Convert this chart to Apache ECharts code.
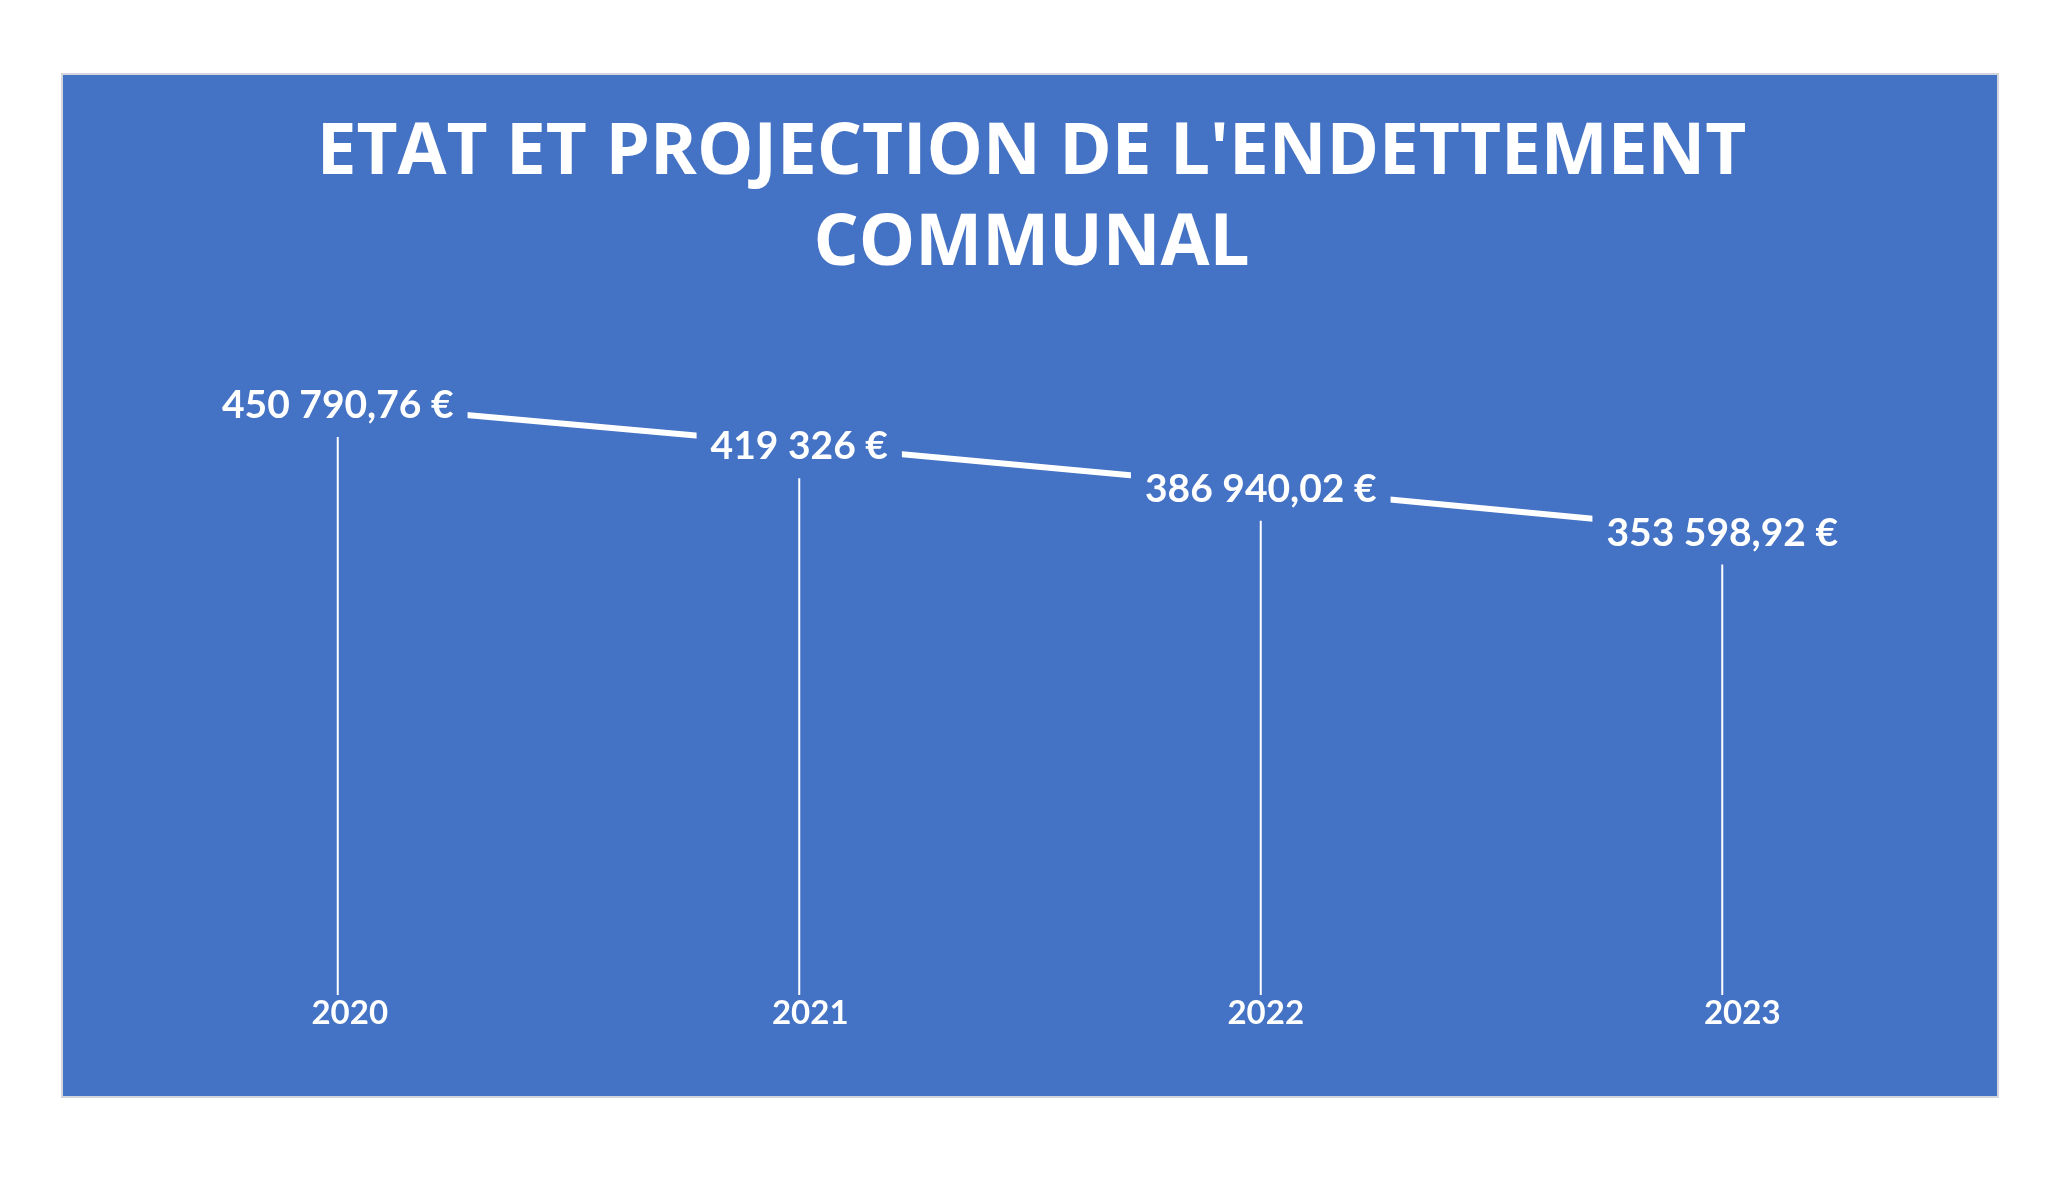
<!DOCTYPE html>
<html>
<head>
<meta charset="utf-8">
<script src="https://cdn.jsdelivr.net/npm/echarts@6/dist/echarts.min.js"></script>
<style>
html,body{margin:0;padding:0;background:#fff;}
#chart{width:2063px;height:1184px;}
</style>
</head>
<body>
<div id="chart"></div>
<script>
var titleText = "ETAT ET PROJECTION DE L'ENDETTEMENT\nCOMMUNAL";
var years = ['2020', '2021', '2022', '2023'];
var debt = [450790.76, 419326, 386940.02, 353598.92];

function fmtEuro(v) {
  var isInt = Math.abs(v - Math.round(v)) < 1e-9;
  var s = isInt ? String(Math.round(v)) : v.toFixed(2);
  var parts = s.split('.');
  var intPart = parts[0].replace(/\B(?=(\d{3})+(?!\d))/g, ' ');
  return intPart + (parts[1] ? ',' + parts[1] : '') + ' €';
}

var chart = echarts.init(document.getElementById('chart'), null, {renderer: 'canvas'});
var blue = '#4472C4';
var yearRich = {
  p0: {padding: [0, 0, 0, 24]},
  p1: {padding: [0, 0, 0, 22]},
  p2: {padding: [0, 0, 0, 10]},
  p3: {padding: [0, 0, 0, 40]}
};
chart.setOption({
  backgroundColor: '#ffffff',
  animation: false,
  graphic: [{
    type: 'rect',
    z: -10,
    shape: {x: 62, y: 74, width: 1936, height: 1023},
    style: {fill: blue, stroke: '#D3D6DC', lineWidth: 2}
  }],
  title: {
    text: titleText,
    left: 'center',
    top: 103,
    textStyle: {
      color: '#ffffff',
      fontFamily: 'Open Sans',
      fontWeight: 'bold',
      fontSize: 71,
      lineHeight: 91
    }
  },
  grid: {left: 107, right: 110, top: 339, bottom: 189, containLabel: false},
  xAxis: {
    type: 'category',
    data: years,
    boundaryGap: true,
    axisLine: {show: false},
    axisTick: {show: false},
    axisLabel: {
      color: '#ffffff',
      fontFamily: 'Lato',
      fontWeight: 'bold',
      fontSize: 33,
      margin: 2,
      formatter: function (v, i) { return '{p' + i + '|' + v + '}'; },
      rich: yearRich
    }
  },
  yAxis: {
    type: 'value',
    min: 0,
    max: 500000,
    show: false,
    splitLine: {show: false}
  },
  series: [
    {
      type: 'bar',
      data: debt,
      barWidth: 2,
      itemStyle: {color: '#ffffff'},
      silent: true,
      z: 1
    },
    {
      type: 'line',
      data: debt,
      symbol: 'circle',
      symbolSize: 1,
      itemStyle: {color: '#ffffff'},
      lineStyle: {color: '#ffffff', width: 6},
      z: 2,
      label: {
        show: true,
        position: 'inside',
        offset: [0, 2],
        formatter: function (p) { return fmtEuro(p.value); },
        color: '#ffffff',
        fontFamily: 'Lato',
        fontWeight: 'bold',
        fontSize: 39,
        backgroundColor: blue,
        padding: [14, 14, 10, 14]
      }
    }
  ]
});
</script>
</body>
</html>
